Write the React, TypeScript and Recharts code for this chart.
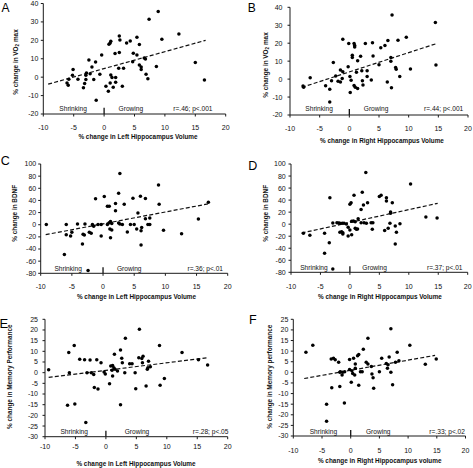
import React from 'react';
import { ScatterChart, Scatter, XAxis, YAxis, ReferenceLine, ReferenceDot } from 'recharts';

const FONT = '"Liberation Sans", Arial, Helvetica, sans-serif';

// ---------- data ----------
const xTicks = [-10, -5, 0, 5, 10, 15, 20];
const vo2Ticks = [-20, -10, 0, 10, 20, 30, 40];
const bdnfTicks = [-80, -60, -40, -20, 0, 20, 40, 60, 80, 100];
const memTicks = [-30, -25, -20, -15, -10, -5, 0, 5, 10, 15, 20, 25];

const aLeftVol = [8.9, 7.4, 12.3, 9.5, 5.4, 2.5, 2.6, 4.3, 3.7, 5.8, 1.1, 1.0, 0.8, 2.5, 1.8, -0.4, 4.8, 5.4, 6.6, 6.8, 4.7, 5.8, 6.1, 6.1, 8.6, 2.4, 3.2, 15.0, 16.5, 6.9, 7.2, -2.5, -1.4, -2.0, -2.3, -0.7, -2.9, -3.0, -1.7, -3.0, -3.2, -3.4, -5.1, -5.2, -4.3, -5.8, -6.1, -5.9, -1.3, 1.1, 1.3, 1.0, 1.9, 1.9, 1.5, 0.3, 0.7, 3.0];
const aVO2 = [35.7, 31.5, 23.5, 20.6, 21.7, 22.4, 20.2, 19.7, 18.6, 17.7, 19.5, 18.6, 17.9, 13.4, 12.9, 12.0, 13.0, 12.0, 10.4, 9.8, 8.4, 6.6, 5.5, 4.1, 5.8, 4.8, 4.8, 8.0, -1.5, 1.6, -0.8, 9.3, 8.2, 5.5, 1.9, 1.6, 2.3, 1.0, -1.3, -1.3, -3.5, -5.8, 4.1, 1.0, -1.1, -1.1, -3.1, -4.4, -12.5, 1.2, -0.2, -3.1, -0.2, -2.7, -5.5, -4.9, -7.6, -4.9];

const bRightVol = [7.2, 14.5, 9.6, 8.2, 6.5, -1.1, -0.1, 0.8, 0.9, 0.9, 2.7, 3.9, 6.0, 5.3, 0.5, 0.5, 1.9, 4.0, 1.4, 7.0, 7.0, 5.0, 7.8, 7.9, 10.3, 14.6, 8.5, 6.4, 7.1, -2.7, -1.5, -1.1, -0.2, -2.3, -1.2, -1.9, -1.5, -3.0, -4.0, -3.3, -3.3, -6.6, -7.7, -7.8, 0.1, 0.3, 0.15, 0.8, 1.0, 1.4, 2.1, 3.0, 2.2, 2.3, 3.0, 3.7, 1.2];
const bVO2 = [35.7, 31.5, 23.3, 21.6, 21.5, 22.2, 19.8, 19.8, 18.7, 17.9, 19.8, 20.2, 18.7, 17.5, 13.3, 12.0, 12.7, 12.9, 10.2, 9.9, 12.0, 8.0, 6.4, 5.5, 5.6, 7.9, 1.4, -1.6, -4.8, 9.2, 5.1, 4.1, 6.9, 1.7, 0.4, -1.2, -1.6, -0.9, -3.7, -5.7, -12.7, 0.8, -4.6, -3.8, 1.4, -0.7, -7.5, -3.5, -4.6, -5.3, 4.7, 4.7, -0.9, -3.3, 1.4, -0.5, 3.8];

const cLeftVol = [2.7, 8.9, 16.9, 15.3, 12.6, 9.7, 9.0, 6.0, 6.8, 4.8, 2.5, 0.2, -1.2, 2.0, 3.4, 0.7, 1.0, 2.0, 5.6, 6.8, 7.5, 1.2, 1.4, 2.5, 2.7, 3.1, -9.1, -5.9, -4.1, -2.9, -1.7, -1.5, -0.8, -0.3, 0.7, 4.4, 5.0, 7.2, 7.5, -5.9, -5.0, -5.2, -3.2, -3.0, -2.2, -1.9, -3.3, -6.2, -2.4, -0.3, 1.1, 1.4, 1.2, 3.9, 5.4, 6.1, 6.1, 6.2, 1.0];
const cBDNF = [84.2, 65.6, 37.2, 9.3, -14.8, -9.3, 33.9, 47, 43.2, 43.7, 51.9, 46.4, 42.6, 35, 33.9, 30.6, 30.6, 23, 19.1, 9.8, 10.9, 5.5, 2.2, 2.7, 1.1, 0.5, 0.5, 0.5, 1.1, 1.1, 0.5, -2.7, 0.5, 0.5, 0.5, 0.5, 0.5, 0.5, 0.5, -16.4, -12.6, -18.6, -15.8, -16.9, -12.6, -14.2, -31.7, -49.2, -75.4, -18.6, -7.1, -8.7, -21.3, -12, -7.1, -9.8, -33.3, -4.4, 3.3];

const dRightVol = [2.7, 10.3, -3.4, 0.7, 2.1, 0.0, 0.2, 3.0, 2.3, 1.9, 5.0, 5.3, 6.2, 6.2, 7.2, 6.9, 6.9, 12.9, 14.8, -2.9, -2.2, -1.9, -1.7, -1.3, -1.0, -0.6, 0.3, 0.6, 0.9, 1.4, 1.9, 2.4, 2.8, 3.6, 3.9, 6.8, 8.5, 3.8, -7.9, -6.8, -4.3, -3.5, -4.3, -2.9, -1.7, -1.4, -1.2, -1.2, -0.3, 0.3, 0.0, 0.9, 1.1, 1.3, -0.3, 5.9, 6.5, 7.7, 7.9, 7.7];
const dBDNF = [85.7, 66.8, 44, 47.9, 53, 33, 35.8, 35.8, 31.9, 24.2, 45.8, 48, 44, 38.5, 35.8, 20.3, 18, 12, 10.3, 2, 2.5, 2, 1.4, 1.4, 1.4, 0.3, 4.8, 5.3, 4.2, 9.2, 2.5, 2.5, 1.4, 2.5, 2.5, 1.4, 0.9, -8.6, -15.2, -18.5, -15.2, -30.7, -48.4, -74.4, -13.6, -12.5, -14.1, -16.3, -19.6, -17.4, -9.6, -6.9, -8.6, -8, -5.3, -10.7, -6.9, -3, -13.6, -32.9];

const eLeftVol = [5.5, 3.2, -5.2, -6.1, 2.4, 1.4, 2.6, 2.7, 8.8, 12.5, 15.2, 16.7, -9.4, -4.3, -3.5, -2.6, -1.5, -0.8, -6.0, -3.1, -2.4, -2.0, -0.3, -0.1, 0.8, 1.1, 1.3, 1.5, 1.0, 1.9, 3.1, 3.9, 4.3, 4.8, 5.4, 5.9, 6.1, 6.0, 6.9, 7.0, 7.3, 6.8, 9.6, 8.9, 6.6, 4.9, 0.6, -1.9, -1.3, -6.3, -5.1, 2.4, -3.3, 1.1];
const eMemory = [20.3, 16.1, 12.7, 9.4, 10.6, 8.6, 6.7, 4.7, 12.7, 9.4, 6.1, 3.6, 1.4, 6.3, 6.1, 5.9, 6.1, 4.7, 0, 0, 0, -0.9, 0.3, -0.6, 3.1, 3.4, 2.3, 1.6, 1.1, 0.8, 0, 4.2, 4.2, 0, 7.0, 6.6, 7.7, 4.7, 2.3, 5.3, 2.8, 1.6, -2.7, -5.9, -6.3, -7.5, -5.2, -6.9, -7.7, -15.3, -14.7, -15, -23.4, -1.6];

const fRightVol = [7.0, 3.0, 10.3, -6.6, -7.8, 2.2, 1.4, 1.2, 0.5, -0.2, -3.4, -3.0, -2.7, -2.1, 8.1, 6.7, 5.4, 2.7, 3.0, 3.6, 6.2, 6.5, 6.4, 7.0, 7.8, 8.4, 13.0, 14.9, -1.8, -1.5, -1.4, -1.05, -0.2, 0.2, 0.35, 0.7, 0.8, 0.8, 1.7, 2.0, 3.7, 3.9, 5.0, 0.1, 1.4, 4.0, 7.3, -3.3, -1.9, -4.2, -1.1, -4.2, -1.9];
const fMemory = [20.6, 16.1, 12.8, 12.8, 9.5, 10.9, 8.4, 7.8, 6.6, 6.1, 6.3, 6.6, 5.9, 4.8, 9.5, 7.2, 6.6, 4.7, 3.9, 2.8, 4.2, 3.6, 1.9, 0, 4.7, 5.5, 3.8, 6.3, 0.3, -1.3, 0, 0.3, 1.3, 0.8, -0.5, -1.3, 1.9, 3.9, 0.3, 0.3, -0.8, -2.5, 0.3, -4.7, -6.1, -7.5, -5.8, -7.3, -6.7, -15, -14.5, -23.1, 0];

// regression line endpoints [x1, y1, x2, y2]
const aFit = [-9.2, -3.8, 16.7, 20.0];
const bFit = [-8.0, -4.6, 14.8, 19.9];
const cFit = [-9.2, -16.4, 16.9, 34.4];
const dFit = [-8.2, -14.7, 14.9, 34.6];
const eFit = [-9.4, -2.2, 16.8, 7.0];
const fFit = [-8.1, -2.9, 14.7, 8.0];

const stats = ['r=.46; p<.001', 'r=.44; p<.001', 'r=.36; p<.01', 'r=.37; p<.01', 'r=.28; p<.05', 'r=.33; p<.02'];

// ---------- layout ----------
type Note = { x: number; y: number; t: string };
type Panel = {
  letter: string; letterPos: [number, number]; letterSize: number;
  left: number; top: number; width: number; height: number;
  plot: [number, number, number, number];
  xs: number[]; ys: number[];
  yDomain: [number, number]; yTicks: number[];
  fit: number[];
  yLabel: React.ReactNode; xLabel: string;
  yLabelPos: [number, number]; xLabelPos: [number, number];
  xTickOff: number; yTickGap: number;
  notes: Note[];
  markH: number;
};

const vo2Label = (
  <>
    <tspan>% change in VO</tspan>
    <tspan dy={1.6} fontSize={4.6}>2</tspan>
    <tspan dy={-1.6}> max</tspan>
  </>
);

const panels: Panel[] = [
  {
    letter: 'A', letterPos: [1.5, 2.2], letterSize: 12,
    left: 0, top: 0, width: 236, height: 150, plot: [43.3, 3.5, 225.7, 114],
    xs: aLeftVol, ys: aVO2, yDomain: [-20, 40], yTicks: vo2Ticks, fit: aFit,
    yLabel: vo2Label, xLabel: '% change in Left Hippocampus Volume',
    yLabelPos: [15, 62], xLabelPos: [138, 136], xTickOff: 13.5, yTickGap: 5,
    notes: [{ x: -5.1, y: -17.1, t: 'Shrinking' }, { x: 4.4, y: -17.1, t: 'Growing' }, { x: 14.6, y: -17.1, t: stats[0] }],
    markH: 3.4,
  },
  {
    letter: 'B', letterPos: [247.7, 1.6], letterSize: 12,
    left: 236, top: 0, width: 237, height: 150, plot: [290, 7.3, 468, 115],
    xs: bRightVol, ys: bVO2, yDomain: [-20, 40], yTicks: vo2Ticks, fit: bFit,
    yLabel: vo2Label, xLabel: '% change in Right Hippocampus Volume',
    yLabelPos: [29.3, 65], xLabelPos: [146, 140], xTickOff: 13.3, yTickGap: 7.5,
    notes: [{ x: -5.1, y: -16.4, t: 'Shrinking' }, { x: 4.5, y: -16.4, t: 'Growing' }, { x: 15.9, y: -16.4, t: stats[1] }],
    markH: 3.4,
  },
  {
    letter: 'C', letterPos: [0.8, 155], letterSize: 12.5,
    left: 0, top: 150, width: 236, height: 160, plot: [40.7, 164, 227.7, 273.3],
    xs: cLeftVol, ys: cBDNF, yDomain: [-80, 100], yTicks: bdnfTicks, fit: cFit,
    yLabel: '% change in BDNF', xLabel: '% change in Left Hippocampus Volume',
    yLabelPos: [15, 63.3], xLabelPos: [136.5, 146.7], xTickOff: 12.7, yTickGap: 4.5,
    notes: [{ x: -5.6, y: -72.5, t: 'Shrinking' }, { x: 4.2, y: -72.5, t: 'Growing' }, { x: 16.4, y: -72.5, t: stats[2] }],
    markH: 10,
  },
  {
    letter: 'D', letterPos: [248.3, 160], letterSize: 12.5,
    left: 236, top: 150, width: 237, height: 160, plot: [291, 164, 467.7, 272.3],
    xs: dRightVol, ys: dBDNF, yDomain: [-80, 100], yTicks: bdnfTicks, fit: dFit,
    yLabel: '% change in BDNF', xLabel: '% change in Right Hippocampus Volume',
    yLabelPos: [29.3, 63.3], xLabelPos: [144, 146.7], xTickOff: 13.7, yTickGap: 5.3,
    notes: [{ x: -6.1, y: -71.7, t: 'Shrinking' }, { x: 4.2, y: -71.7, t: 'Growing' }, { x: 16.1, y: -71.7, t: stats[3] }],
    markH: 10,
  },
  {
    letter: 'E', letterPos: [-0.5, 316.5], letterSize: 13,
    left: 0, top: 310, width: 236, height: 158, plot: [45, 319.3, 227.7, 436.7],
    xs: eLeftVol, ys: eMemory, yDomain: [-30, 25], yTicks: memTicks, fit: eFit,
    yLabel: '% change in Memory Performance', xLabel: '% change in Left Hippocampus Volume',
    yLabelPos: [10, 66.7], xLabelPos: [136, 153.3], xTickOff: 10, yTickGap: 7,
    notes: [{ x: -5.2, y: -27.5, t: 'Shrinking' }, { x: 5.1, y: -27.5, t: 'Growing' }, { x: 17.2, y: -27.5, t: stats[4] }],
    markH: 2.8,
  },
  {
    letter: 'F', letterPos: [249, 314], letterSize: 12.5,
    left: 236, top: 310, width: 237, height: 158, plot: [293.3, 319.3, 465.5, 436],
    xs: fRightVol, ys: fMemory, yDomain: [-30, 25], yTicks: memTicks, fit: fFit,
    yLabel: '% change in Memory performance', xLabel: '% change in Right Hippocampus volume',
    yLabelPos: [33.3, 66.7], xLabelPos: [143.7, 150.7], xTickOff: 14.7, yTickGap: 5,
    notes: [{ x: -4.75, y: -28.1, t: 'Shrinking' }, { x: 4.8, y: -28.1, t: 'Growing' }, { x: 16.8, y: -28.1, t: stats[5] }],
    markH: 2.8,
  },
];

const AXIS = '#1a1a1a';

function Chart({ p }: { p: Panel }) {
  const [x0, y0, x1, y1] = p.plot;
  const data = p.xs.map((x, i) => ({ x, y: p.ys[i] }));
  const mTop = y0 - p.top;
  const yAxisW = x0 - p.left;
  const mRight = p.left + p.width - x1;
  const xAxisH = p.top + p.height - y1;
  const axisYLocal = y1 - p.top;
  return (
    <div style={{ position: 'absolute', left: p.left, top: p.top, width: p.width, height: p.height }}>
      <ScatterChart width={p.width} height={p.height} margin={{ top: mTop, right: mRight, bottom: 0, left: 0 }}>
        <XAxis
          type="number"
          dataKey="x"
          domain={[-10, 20]}
          ticks={xTicks}
          interval={0}
          height={xAxisH}
          stroke={AXIS}
          tickSize={2.5}
          axisLine={{ stroke: AXIS, strokeWidth: 1 }}
          tickLine={{ stroke: AXIS }}
          tick={(tp: any) => (
            <text
              x={tp.x}
              y={axisYLocal + p.xTickOff}
              textAnchor="middle"
              dominantBaseline="central"
              fontSize={7}
              fontFamily={FONT}
              fill="#111"
            >
              {tp.payload.value}
            </text>
          )}
          label={() => (
            <text
              x={p.xLabelPos[0]}
              y={p.xLabelPos[1]}
              textAnchor="middle"
              dominantBaseline="central"
              fontSize={6.4}
              fontWeight="bold"
              fontFamily={FONT}
              fill="#111"
            >
              {p.xLabel}
            </text>
          )}
        />
        <YAxis
          type="number"
          dataKey="y"
          domain={p.yDomain}
          ticks={p.yTicks}
          interval={0}
          width={yAxisW}
          stroke={AXIS}
          tickSize={2.5}
          tickMargin={p.yTickGap - 2.5}
          axisLine={{ stroke: AXIS, strokeWidth: 1 }}
          tickLine={{ stroke: AXIS }}
          tick={{ fontSize: 7, fill: '#111', fontFamily: FONT }}
          label={() => (
            <text
              x={p.yLabelPos[0]}
              y={p.yLabelPos[1]}
              transform={`rotate(-90, ${p.yLabelPos[0]}, ${p.yLabelPos[1]})`}
              textAnchor="middle"
              dominantBaseline="central"
              fontSize={6.4}
              fontWeight="bold"
              fontFamily={FONT}
              fill="#111"
            >
              {p.yLabel}
            </text>
          )}
        />
        <ReferenceLine
          segment={[{ x: p.fit[0], y: p.fit[1] }, { x: p.fit[2], y: p.fit[3] }]}
          stroke="#111"
          strokeWidth={1.2}
          strokeDasharray="4 2.2"
        />
        <ReferenceLine
          segment={[{ x: 0, y: p.yDomain[0] }, { x: 0, y: p.yDomain[0] + p.markH }]}
          stroke="#111"
          strokeWidth={1.3}
        />
        {p.notes.map((n, i) => (
          <ReferenceDot
            key={i}
            x={n.x}
            y={n.y}
            r={0}
            shape={(sp: any) => (
              <text
                x={sp.cx}
                y={sp.cy}
                textAnchor="middle"
                dominantBaseline="central"
                fontSize={6.6}
                fontFamily={FONT}
                fill="#111"
              >
                {n.t}
              </text>
            )}
          />
        ))}
        <Scatter
          data={data}
          isAnimationActive={false}
          shape={(sp: any) => <circle cx={sp.cx} cy={sp.cy} r={1.75} fill="#000" />}
        />
      </ScatterChart>
      <div
        style={{
          position: 'absolute',
          left: p.letterPos[0] - p.left,
          top: p.letterPos[1] - p.top,
          fontFamily: FONT,
          fontSize: p.letterSize,
          lineHeight: 1,
          color: '#000',
        }}
      >
        {p.letter}
      </div>
    </div>
  );
}

export default function App() {
  return (
    <div style={{ position: 'absolute', left: 0, top: 0, width: 473, height: 468, background: '#fff', overflow: 'hidden' }}>
      {panels.map((p) => (
        <Chart key={p.letter} p={p} />
      ))}
    </div>
  );
}
